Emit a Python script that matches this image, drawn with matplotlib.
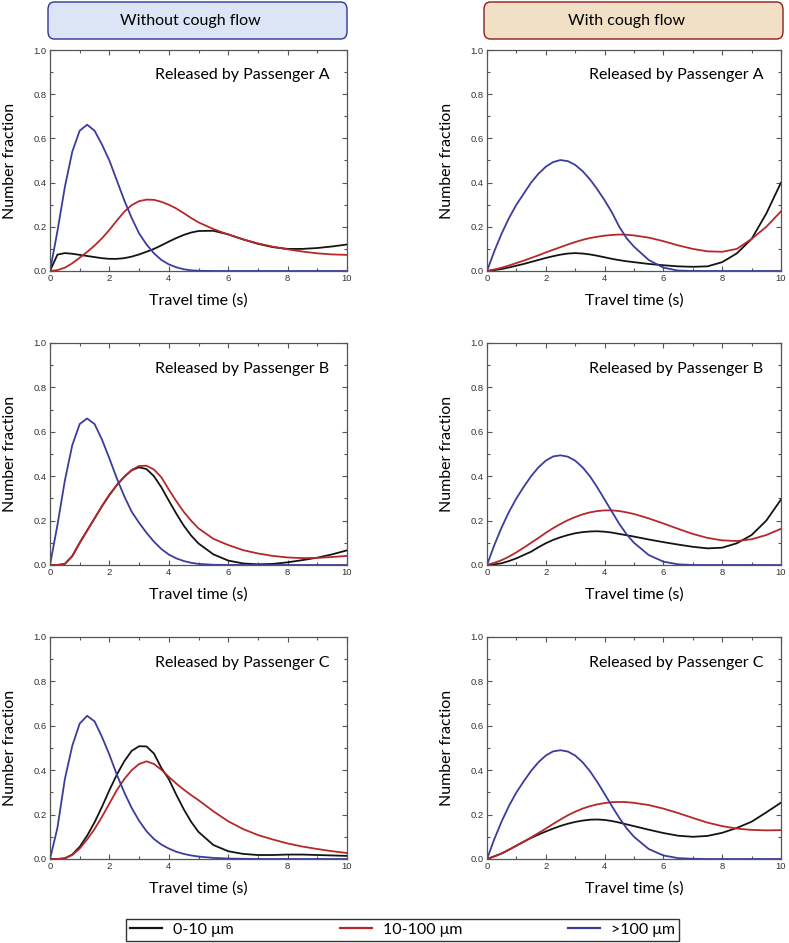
import numpy as np
import matplotlib
matplotlib.use("Agg")
import matplotlib.pyplot as plt
from matplotlib.lines import Line2D
from matplotlib.patches import FancyBboxPatch
from matplotlib.ticker import MultipleLocator

plt.rcParams['font.family'] = ['Lato', 'DejaVu Sans']

# shared time grid (s)
t = [0, 0.25, 0.5, 0.75, 1, 1.25, 1.5, 1.75, 2, 2.25, 2.5, 2.75, 3, 3.25, 3.5, 3.75,
     4, 4.25, 4.5, 4.75, 5, 5.5, 6, 6.5, 7, 7.5, 8, 8.5, 9, 9.5, 10]

# Without cough flow, Passenger A
noc_a_small = [0, 0.074, 0.081, 0.078, 0.073, 0.068, 0.063, 0.058, 0.055, 0.055, 0.058, 0.065, 0.075, 0.087, 0.1, 0.116,
               0.133, 0.149, 0.163, 0.174, 0.181, 0.182, 0.166, 0.143, 0.123, 0.108, 0.1, 0.1, 0.104, 0.111, 0.12]
noc_a_mid = [0, 0.004, 0.015, 0.035, 0.06, 0.086, 0.115, 0.148, 0.186, 0.228, 0.268, 0.298, 0.316, 0.323, 0.322, 0.313,
             0.3, 0.283, 0.262, 0.24, 0.22, 0.19, 0.165, 0.143, 0.125, 0.11, 0.098, 0.088, 0.08, 0.075, 0.073]
noc_a_large = [0, 0.18, 0.38, 0.54, 0.635, 0.662, 0.635, 0.572, 0.5, 0.41, 0.32, 0.24, 0.17, 0.12, 0.08, 0.05,
               0.03, 0.017, 0.008, 0.003, 0.001, 0, 0, 0, 0, 0, 0, 0, 0, 0, 0]

# Without cough flow, Passenger B
noc_b_small = [0, 0, 0.005, 0.04, 0.1, 0.155, 0.21, 0.265, 0.315, 0.36, 0.397, 0.427, 0.44, 0.432, 0.4, 0.35,
               0.29, 0.232, 0.178, 0.133, 0.097, 0.048, 0.02, 0.007, 0.003, 0.005, 0.012, 0.022, 0.033, 0.048, 0.066]
noc_b_mid = [0, 0, 0.005, 0.04, 0.1, 0.155, 0.21, 0.265, 0.317, 0.36, 0.398, 0.428, 0.446, 0.447, 0.43, 0.395,
             0.34, 0.288, 0.24, 0.2, 0.165, 0.118, 0.09, 0.067, 0.052, 0.041, 0.034, 0.031, 0.032, 0.036, 0.041]
noc_b_large = [0, 0.18, 0.38, 0.54, 0.635, 0.66, 0.635, 0.565, 0.48, 0.39, 0.31, 0.24, 0.19, 0.145, 0.105, 0.072,
               0.047, 0.03, 0.018, 0.01, 0.005, 0.001, 0, 0, 0, 0, 0, 0, 0, 0, 0]

# Without cough flow, Passenger C
noc_c_small = [0, 0, 0.003, 0.02, 0.055, 0.105, 0.165, 0.235, 0.31, 0.38, 0.44, 0.487, 0.508, 0.507, 0.475, 0.41,
               0.36, 0.29, 0.225, 0.168, 0.122, 0.063, 0.035, 0.023, 0.018, 0.018, 0.02, 0.02, 0.018, 0.016, 0.014]
noc_c_mid = [0, 0, 0.003, 0.018, 0.047, 0.088, 0.135, 0.19, 0.25, 0.31, 0.36, 0.4, 0.428, 0.44, 0.428, 0.402,
             0.37, 0.34, 0.313, 0.288, 0.265, 0.215, 0.17, 0.135, 0.108, 0.088, 0.07, 0.056, 0.045, 0.035, 0.027]
noc_c_large = [0, 0.14, 0.36, 0.51, 0.61, 0.645, 0.62, 0.55, 0.47, 0.38, 0.3, 0.23, 0.172, 0.125, 0.09, 0.065,
               0.047, 0.033, 0.023, 0.016, 0.011, 0.005, 0.002, 0.001, 0, 0, 0, 0, 0, 0, 0]

# With cough flow, Passenger A
cou_a_small = [0, 0.004, 0.009, 0.016, 0.024, 0.032, 0.041, 0.05, 0.059, 0.067, 0.074, 0.079, 0.081, 0.079, 0.075, 0.069,
               0.062, 0.055, 0.049, 0.044, 0.04, 0.032, 0.026, 0.021, 0.019, 0.021, 0.04, 0.08, 0.145, 0.26, 0.4]
cou_a_mid = [0, 0.007, 0.015, 0.025, 0.036, 0.047, 0.059, 0.071, 0.084, 0.096, 0.108, 0.12, 0.131, 0.141, 0.149, 0.155,
             0.16, 0.163, 0.165, 0.164, 0.161, 0.151, 0.135, 0.116, 0.1, 0.089, 0.087, 0.1, 0.145, 0.2, 0.27]
cou_a_large = [0, 0.09, 0.17, 0.24, 0.3, 0.35, 0.4, 0.44, 0.472, 0.493, 0.502, 0.497, 0.48, 0.452, 0.415, 0.37,
               0.32, 0.265, 0.2, 0.148, 0.11, 0.05, 0.015, 0.002, 0, 0, 0, 0, 0, 0, 0]

# With cough flow, Passenger B
cou_b_small = [0, 0.003, 0.008, 0.018, 0.03, 0.045, 0.06, 0.08, 0.098, 0.113, 0.125, 0.135, 0.143, 0.148, 0.151, 0.152,
               0.15, 0.146, 0.14, 0.134, 0.128, 0.115, 0.103, 0.092, 0.082, 0.075, 0.078, 0.098, 0.135, 0.2, 0.295]
cou_b_mid = [0, 0.01, 0.022, 0.038, 0.057, 0.078, 0.1, 0.122, 0.145, 0.166, 0.185, 0.202, 0.216, 0.228, 0.237, 0.243,
             0.246, 0.246, 0.243, 0.237, 0.23, 0.21, 0.187, 0.163, 0.14, 0.122, 0.111, 0.108, 0.116, 0.135, 0.163]
cou_b_large = [0, 0.09, 0.17, 0.24, 0.3, 0.352, 0.4, 0.44, 0.47, 0.489, 0.494, 0.488, 0.47, 0.44, 0.4, 0.35,
               0.295, 0.24, 0.185, 0.138, 0.1, 0.045, 0.015, 0.003, 0, 0, 0, 0, 0, 0, 0]

# With cough flow, Passenger C
cou_c_small = [0, 0.012, 0.025, 0.042, 0.06, 0.078, 0.095, 0.11, 0.124, 0.137, 0.149, 0.159, 0.167, 0.173, 0.177, 0.178,
               0.176, 0.171, 0.164, 0.156, 0.148, 0.132, 0.117, 0.105, 0.1, 0.104, 0.118, 0.14, 0.168, 0.21, 0.254]
cou_c_mid = [0, 0.012, 0.025, 0.042, 0.06, 0.078, 0.097, 0.117, 0.137, 0.158, 0.178, 0.197, 0.213, 0.227, 0.238, 0.246,
             0.252, 0.256, 0.257, 0.256, 0.253, 0.243, 0.227, 0.207, 0.185, 0.164, 0.148, 0.137, 0.131, 0.129, 0.13]
cou_c_large = [0, 0.09, 0.17, 0.24, 0.3, 0.35, 0.397, 0.436, 0.466, 0.485, 0.49, 0.484, 0.466, 0.436, 0.396, 0.347,
               0.293, 0.238, 0.185, 0.138, 0.1, 0.045, 0.016, 0.004, 0.001, 0, 0, 0, 0, 0, 0]

size_labels = ["0-10 μm", "10-100 μm", ">100 μm"]
colors = ["#141414", "#b5282b", "#3b3d9c"]
passengers = ["A", "B", "C"]
column_titles = ["Without cough flow", "With cough flow"]

panels = [
    [(noc_a_small, noc_a_mid, noc_a_large), (cou_a_small, cou_a_mid, cou_a_large)],
    [(noc_b_small, noc_b_mid, noc_b_large), (cou_b_small, cou_b_mid, cou_b_large)],
    [(noc_c_small, noc_c_mid, noc_c_large), (cou_c_small, cou_c_mid, cou_c_large)],
]

W, H = 789, 943
fig = plt.figure(figsize=(W / 100, H / 100), dpi=100)

col_x = [(50, 297), (487, 294)]
row_y = [(50, 221), (343, 222), (637, 222)]

for r, (top, h) in enumerate(row_y):
    for c, (left, w) in enumerate(col_x):
        ax = fig.add_axes([left / W, 1 - (top + h) / H, w / W, h / H])
        for series, col in zip(panels[r][c], colors):
            ax.plot(t, series, color=col, lw=1.3, solid_joinstyle='round')
        ax.set_xlim(0, 10)
        ax.set_ylim(0, 1)
        ax.xaxis.set_major_locator(MultipleLocator(2))
        ax.xaxis.set_minor_locator(MultipleLocator(1))
        ax.yaxis.set_major_locator(MultipleLocator(0.2))
        ax.yaxis.set_minor_locator(MultipleLocator(0.1))
        ax.yaxis.set_major_formatter(matplotlib.ticker.FormatStrFormatter('%.1f'))
        ax.xaxis.set_major_formatter(matplotlib.ticker.FormatStrFormatter('%d'))
        ax.tick_params(which='both', direction='in', top=True, right=True,
                       colors='#555555', labelcolor='#333333')
        ax.tick_params(which='major', length=3.5, width=0.8, labelsize=6.8, pad=2.5)
        ax.tick_params(which='minor', length=2, width=0.8)
        for tl in ax.get_xticklabels() + ax.get_yticklabels():
            tl.set_fontfamily(['Liberation Sans', 'DejaVu Sans'])
        for sp in ax.spines.values():
            sp.set_color('#555555')
            sp.set_linewidth(0.9)
        ax.set_xlabel("Travel time (s)", fontsize=11.5, labelpad=7)
        ax.set_ylabel("Number fraction", fontsize=11.5, labelpad=12)
        ax.text(0.94, 0.885, f"Released by Passenger {passengers[r]}",
                transform=ax.transAxes, ha='right', va='center', fontsize=11.5)

# column header boxes
header_styles = [("#dbe5f5", "#2e3592"), ("#f1e0c5", "#8c1c1c")]
for (left, w), title, (fc, ec) in zip([(48, 299), (484, 299)], column_titles, header_styles):
    box = FancyBboxPatch((left / W, 1 - 39 / H), w / W, 37 / H,
                         boxstyle="round,pad=0,rounding_size=0.008",
                         transform=fig.transFigure, facecolor=fc, edgecolor=ec, lw=1.0)
    fig.patches.append(box)
    fig.text((left + w / 2 - 7) / W, 1 - 20.5 / H, title, ha='center', va='center', fontsize=11.5)

handles = [Line2D([], [], color=col, lw=1.6) for col in colors]
leg = fig.legend(handles, size_labels, loc='lower left',
                 bbox_to_anchor=(126 / W, 1 - 941 / H, 553 / W, 27 / H),
                 mode='expand', ncol=3, frameon=True, fancybox=False,
                 edgecolor='black', fontsize=11.5, handlelength=2.0,
                 handletextpad=0.7, borderpad=0.25, borderaxespad=0)
leg.get_frame().set_linewidth(1.0)

fig.savefig("out.png", dpi=100)
